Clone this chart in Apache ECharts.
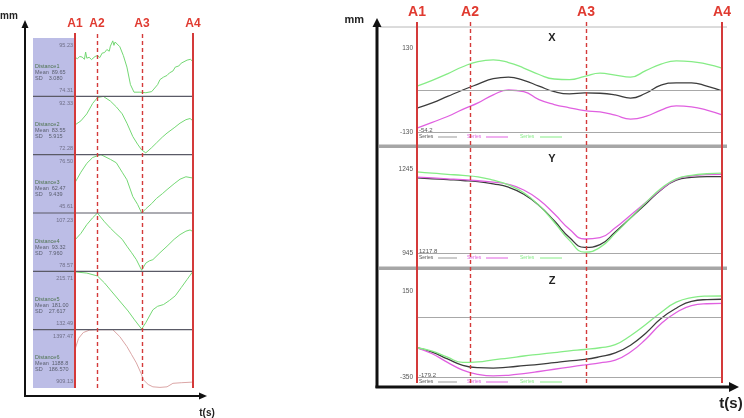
<!DOCTYPE html>
<html>
<head>
<meta charset="utf-8">
<title>Distance / XYZ</title>
<script src="https://cdn.jsdelivr.net/npm/echarts@6/dist/echarts.min.js"></script>
<style>
  html, body { margin: 0; padding: 0; background: #fff; }
  #chart { width: 744px; height: 418px; }
</style>
</head>
<body>
<div id="chart"></div>
<script>
// event marks on the time axis (0 = A1, 100 = A4)
const eventNames = ['A1', 'A2', 'A3', 'A4']
const leftEvents = [0, 18.6, 56.8, 100]
const rightEvents = [0, 17.4, 55.4, 100]

// left: six distances, [t, mm]
const distNames = ['Distance1', 'Distance2', 'Distance3', 'Distance4', 'Distance5', 'Distance6']
const distMax = [95.23, 92.33, 76.50, 107.23, 215.71, 1397.47]
const distMin = [74.31, 72.28, 45.61, 78.57, 132.49, 909.13]
const distMean = ['89.65', '83.55', '62.47', '93.32', '181.00', '1188.8']
const distSD = ['3.080', '5.915', '9.439', '7.960', '27.617', '186.570']

const dist1 = [[0, 88.3], [2, 87.8], [4, 88.6], [5, 87.9], [6, 88.4], [8, 87.6], [9, 90.2], [10, 88.0], [12, 88.3],
  [14, 87.5], [15, 87.8], [17, 88.6], [19, 88.9], [21, 88.2], [23, 89.8], [25, 90.0], [27, 91.1], [29, 90.5],
  [30, 92.3], [32, 94.2], [33, 92.6], [34, 93.8], [35, 93.1], [38, 92.1], [41, 88.9], [44, 84.8], [47, 78.5],
  [50, 75.8], [55, 75.8], [60, 75.6], [65, 76.0], [70, 78.5], [72, 80.3], [75, 81.2], [78, 81.8], [80, 82.7],
  [83, 83.4], [85, 84.8], [88, 85.2], [90, 86.2], [95, 87.3], [98, 87.6], [100, 86.6]]
const dist2 = [[0, 82.5], [5, 83.9], [10, 86.3], [15, 89.9], [19, 91.9], [24, 92.3], [30, 90.7], [35, 88.7],
  [40, 86.3], [44, 83.1], [49, 78.5], [53, 75.9], [56.5, 73.9], [60, 72.9], [65, 74.7], [69, 76.3], [74, 78.3],
  [78, 79.7], [84, 81.5], [89, 83.1], [94, 84.3], [97.5, 84.7], [100, 83.9]]
const dist3 = [[0, 61.7], [5, 67.2], [10, 71.9], [15, 75.0], [19, 75.9], [22, 76.5], [30, 74.0], [35, 72.2],
  [40, 67.2], [44, 63.2], [49, 54.3], [53, 50.2], [56.5, 45.6], [60, 47.8], [65, 50.6], [69, 53.3], [74, 55.8],
  [78, 58.0], [84, 61.1], [89, 63.5], [94, 64.8], [100, 64.1]]
const dist4 = [[0, 94.0], [5, 97.2], [10, 101.5], [15, 104.9], [19, 107.2], [25, 102.9], [30, 99.8], [34, 97.5],
  [40, 94.3], [44, 90.9], [48, 87.7], [52, 84.3], [56.5, 79.1], [60, 82.6], [63, 83.7], [66, 84.3], [72, 87.7],
  [78, 90.9], [84, 94.3], [89, 96.6], [94, 98.3], [97.5, 98.9], [100, 98.1]]
const dist5 = [[0, 214.9], [10, 213.2], [19, 209.1], [25, 199.1], [30, 189.1], [35, 179.1], [40, 169.1],
  [45, 159.1], [50, 147.5], [56.5, 133.3], [60, 142.5], [66, 160.8], [70, 165.8], [75, 168.3], [80, 174.1],
  [85, 180.8], [90, 192.4], [95, 204.1], [100, 215.7]]
const dist6 = [[0, 1231.4], [3, 1324.2], [7, 1373.1], [12, 1392.6], [20, 1397.5], [32, 1397.5], [38, 1338.9],
  [44, 1255.9], [48, 1187.5], [52, 1119.1], [56, 1031.2], [58, 977.5], [62, 938.4], [66, 918.9], [72, 914.0],
  [78, 918.9], [83, 948.2], [90, 953.1], [99, 958.0], [100, 958.0]]
const distData = [dist1, dist2, dist3, dist4, dist5, dist6]

// right: X / Y / Z coordinates, three series each
const tRight = [0, 5, 10, 15, 20, 25, 30, 35, 40, 45, 50, 55, 60, 65, 70, 75, 80, 85, 90, 95, 100]
const xBlack = [-56, -40, -20, 0, 18, 35, 40, 30, 12, -5, -12, -9, -10, -15, -25, -10, 15, 22, 22, 12, -3]
const xPink = [-118, -100, -82, -60, -40, -15, 0, -5, -30, -45, -55, -64, -68, -78, -90, -82, -62, -49, -52, -62, -77]
const xGreen = [12, 30, 50, 72, 88, 93, 85, 68, 48, 34, 32, 42, 52, 46, 40, 60, 80, 90, 88, 80, 68]
const yBlack = [1213, 1210, 1207, 1204, 1200, 1192, 1180, 1155, 1115, 1060, 1000, 965, 975, 1020, 1070, 1120, 1170, 1205, 1215, 1218, 1218]
const yPink = [1216, 1213, 1210, 1207, 1203, 1198, 1190, 1170, 1135, 1085, 1030, 995, 1000, 1035, 1080, 1125, 1172, 1208, 1220, 1225, 1226]
const yGreen = [1235, 1230, 1226, 1222, 1217, 1205, 1188, 1160, 1115, 1055, 990, 948, 965, 1015, 1070, 1125, 1175, 1210, 1222, 1228, 1230]
const zBlack = [-180, -205, -245, -282, -296, -298, -292, -284, -276, -266, -256, -248, -232, -210, -165, -95, -10, 50, 90, 100, 102]
const zPink = [-180, -215, -265, -310, -335, -344, -340, -330, -318, -305, -292, -280, -268, -252, -205, -130, -40, 25, 65, 76, 78]
const zGreen = [-180, -200, -235, -265, -262, -250, -240, -228, -218, -208, -198, -190, -180, -162, -110, -45, 25, 85, 112, 120, 121]

const panelNames = ['X', 'Y', 'Z']
const panelMin = [-130, 945, -350]
const panelMax = [130, 1245, 150]
const panelLines = [[0, -130], [945], [0, -350]] // grey reference lines
const startLabels = ['-54.2', '1217.8', '-179.2']
const panelData = [[xBlack, xPink, xGreen], [yBlack, yPink, yGreen], [zBlack, zPink, zGreen]]

const seriesColors = ['#3c3c3c', '#e060e0', '#86ec86']
const red = '#e03a30'
const font = 'Liberation Sans, Arial, sans-serif'

const grids = []
const xAxes = []
const yAxes = []
const series = []
const graphics = []

function addGrid(g, xMin, xMax, yMin, yMax, yAxisExtra) {
  const idx = grids.length
  grids.push(g)
  xAxes.push({ gridIndex: idx, type: 'value', min: xMin, max: xMax, show: false })
  yAxes.push(Object.assign({ gridIndex: idx, type: 'value', min: yMin, max: yMax, show: false }, yAxisExtra || {}))
  return idx
}

function eventLines(events, fontSize) {
  return {
    symbol: 'none',
    silent: true,
    animation: false,
    label: {
      show: true,
      position: 'end',
      distance: 3,
      formatter: p => eventNames[p.dataIndex],
      color: red,
      fontWeight: 'bold',
      fontSize: fontSize,
      fontFamily: font,
    },
    data: events.map((x, i) => ({
      xAxis: x,
      lineStyle: {
        color: '#d43a3a',
        width: (i === 1 || i === 2) ? 1.4 : 2,
        type: (i === 1 || i === 2) ? [4, 3] : 'solid',
      },
    })),
  }
}

// ---------- left chart ----------
const leftTop = 38
const rowH = 58.33

graphics.push({ type: 'rect', shape: { x: 33, y: 38, width: 42, height: 350 }, style: { fill: '#bcbde6' }, z: 0 })

distData.forEach((d, i) => {
  const top = leftTop + i * rowH
  const gi = addGrid({ left: 75, top: top, width: 118, height: rowH }, 0, 100, distMin[i], distMax[i])
  series.push({
    type: 'line',
    xAxisIndex: gi,
    yAxisIndex: gi,
    data: d,
    showSymbol: false,
    lineStyle: { color: i === 5 ? '#dba6a6' : '#74d874', width: 1 },
    z: 3,
  })
  if (i > 0) {
    graphics.push({ type: 'line', shape: { x1: 33, y1: top, x2: 193, y2: top }, style: { stroke: '#5a5a66', lineWidth: 1.2 }, z: 5 })
  }
  const txt = (text, x, y, align, color) => graphics.push({
    type: 'text', x: x, y: y, z: 5,
    style: { text: text, fill: color, font: '5.5px ' + font, textAlign: align, textVerticalAlign: 'middle' },
  })
  txt(distMax[i].toFixed(2), 73, top + 7, 'right', '#6f6f88')
  txt(distNames[i], 35, top + 28, 'left', '#4f7450')
  txt('Mean  ' + distMean[i], 35, top + 34, 'left', '#5b6070')
  txt('SD    ' + distSD[i], 35, top + 40, 'left', '#5b6070')
  txt(distMin[i].toFixed(2), 73, top + 52, 'right', '#6f6f88')
})

// event lines over the left panels
const leftOverlay = addGrid({ left: 75, top: 33, width: 118, height: 355 }, 0, 100, 0, 1)
series.push({ type: 'line', xAxisIndex: leftOverlay, yAxisIndex: leftOverlay, data: [], markLine: eventLines(leftEvents, 12), z: 10 })

// left axes arrows
graphics.push(
  { type: 'line', shape: { x1: 25, y1: 26, x2: 25, y2: 396 }, style: { stroke: '#111', lineWidth: 2 }, z: 6 },
  { type: 'polygon', shape: { points: [[25, 20], [21.5, 28], [28.5, 28]] }, style: { fill: '#111' }, z: 6 },
  { type: 'line', shape: { x1: 24, y1: 396, x2: 200, y2: 396 }, style: { stroke: '#111', lineWidth: 2 }, z: 6 },
  { type: 'polygon', shape: { points: [[207, 396], [199, 392.5], [199, 399.5]] }, style: { fill: '#111' }, z: 6 },
  { type: 'text', x: 0, y: 16, style: { text: 'mm', fill: '#222', font: 'bold 10px ' + font, textAlign: 'left', textVerticalAlign: 'middle' } },
  { type: 'text', x: 207, y: 413, style: { text: 't(s)', fill: '#222', font: 'bold 10px ' + font, textAlign: 'center', textVerticalAlign: 'middle' } },
)

// ---------- right chart ----------
const rightTops = [48, 169, 291]
const rightHeights = [84, 84, 86]

panelData.forEach((group, p) => {
  const gi = addGrid({ left: 417, top: rightTops[p], width: 305, height: rightHeights[p] }, 0, 100, panelMin[p], panelMax[p], {
    show: true,
    axisLine: { show: false },
    axisTick: { show: false },
    splitLine: { show: false },
    axisLabel: {
      show: true,
      margin: 4,
      fontSize: 6.5,
      color: '#555',
      fontFamily: font,
      formatter: v => (v === panelMin[p] || v === panelMax[p]) ? String(v) : '',
    },
  })
  group.forEach((vals, s) => {
    series.push({
      type: 'line',
      xAxisIndex: gi,
      yAxisIndex: gi,
      data: tRight.map((t, k) => [t, vals[k]]),
      smooth: true,
      showSymbol: false,
      lineStyle: { color: seriesColors[s], width: 1.3 },
      z: 3,
      markLine: s === 0
        ? {
            symbol: 'none',
            silent: true,
            label: { show: false },
            lineStyle: { color: '#a8a8a8', width: 1, type: 'solid' },
            data: panelLines[p].map(v => ({ yAxis: v })),
          }
        : undefined,
    })
  })

  const top = rightTops[p]
  const bottom = top + rightHeights[p]
  // panel title
  graphics.push({ type: 'text', x: 552, y: top - 10, style: { text: panelNames[p], fill: '#222', font: 'bold 11px ' + font, textAlign: 'center', textVerticalAlign: 'middle' } })
  // first value
  graphics.push({ type: 'text', x: 419, y: bottom - 2, style: { text: startLabels[p], fill: '#555', font: '6px ' + font, textAlign: 'left', textVerticalAlign: 'middle' } })
  // little legend row
  const legY = bottom + 5
  const legX = [[419, 438, 457], [467, 486, 508], [520, 540, 562]]
  legX.forEach((lx, s) => {
    graphics.push(
      { type: 'text', x: lx[0], y: legY, style: { text: 'Series', fill: s === 0 ? '#555' : seriesColors[s], font: '5px ' + font, textAlign: 'left', textVerticalAlign: 'middle' } },
      { type: 'line', shape: { x1: lx[1], y1: legY, x2: lx[2], y2: legY }, style: { stroke: s === 0 ? '#999' : seriesColors[s], lineWidth: 1 } },
    )
  })
})

// right frame lines and panel separators
graphics.push(
  { type: 'line', shape: { x1: 380, y1: 27, x2: 727, y2: 27 }, style: { stroke: '#b8b8b8', lineWidth: 1 } },
  { type: 'rect', shape: { x: 379, y: 144.5, width: 348, height: 3.5 }, style: { fill: '#a6a6a6' } },
  { type: 'rect', shape: { x: 379, y: 266.5, width: 348, height: 3.5 }, style: { fill: '#a6a6a6' } },
)

const rightOverlay = addGrid({ left: 417, top: 22, width: 305, height: 361 }, 0, 100, 0, 1)
series.push({ type: 'line', xAxisIndex: rightOverlay, yAxisIndex: rightOverlay, data: [], markLine: eventLines(rightEvents, 14), z: 10 })

// right axes arrows
graphics.push(
  { type: 'line', shape: { x1: 377, y1: 26, x2: 377, y2: 388 }, style: { stroke: '#111', lineWidth: 3 }, z: 6 },
  { type: 'polygon', shape: { points: [[377, 18], [372.5, 27], [381.5, 27]] }, style: { fill: '#111' }, z: 6 },
  { type: 'line', shape: { x1: 375.5, y1: 387, x2: 730, y2: 387 }, style: { stroke: '#111', lineWidth: 3 }, z: 6 },
  { type: 'polygon', shape: { points: [[739, 387], [729, 382], [729, 392]] }, style: { fill: '#111' }, z: 6 },
  { type: 'text', x: 364, y: 20, style: { text: 'mm', fill: '#222', font: 'bold 11px ' + font, textAlign: 'right', textVerticalAlign: 'middle' } },
  { type: 'text', x: 731, y: 404, style: { text: 't(s)', fill: '#222', font: 'bold 15px ' + font, textAlign: 'center', textVerticalAlign: 'middle' } },
)

const chart = echarts.init(document.getElementById('chart'))
chart.setOption({
  animation: false,
  backgroundColor: '#fff',
  grid: grids,
  xAxis: xAxes,
  yAxis: yAxes,
  series: series,
  graphic: { elements: graphics },
})
</script>
</body>
</html>
